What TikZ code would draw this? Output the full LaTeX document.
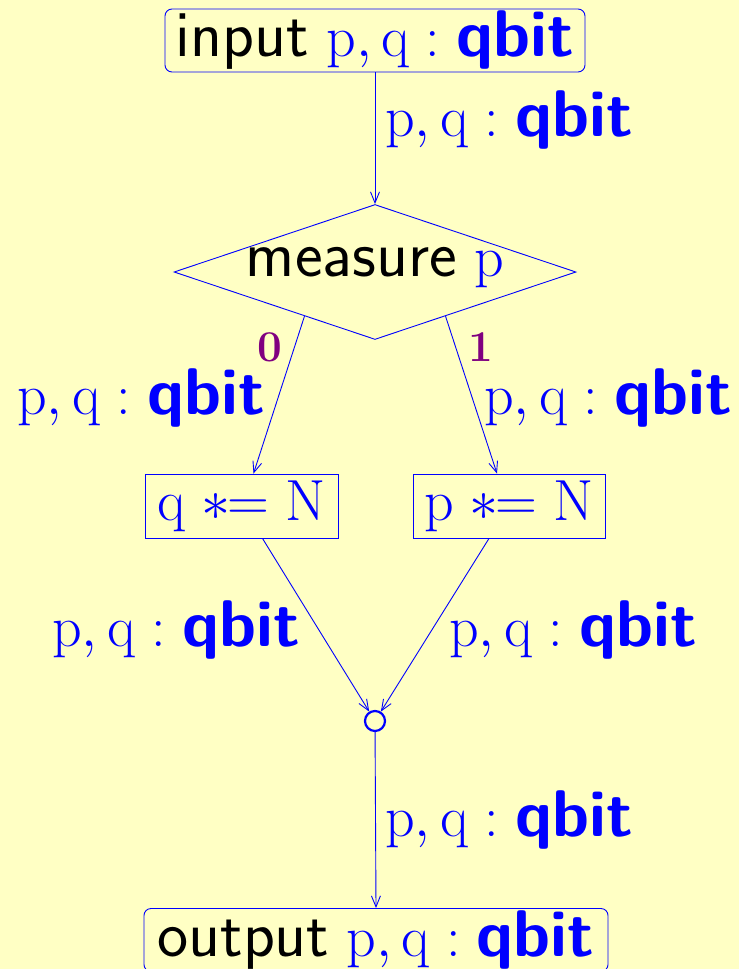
\documentclass[tikz,border=0pt]{standalone}
\usepackage{fix-cm}
\usetikzlibrary{shapes.geometric,arrows.meta,calc}
\definecolor{bgyellow}{RGB}{255,255,196}
\definecolor{dblue}{RGB}{0,0,255}
\definecolor{dpurple}{RGB}{128,0,128}
\newcommand{\sfw}[1]{{\fontsize{66}{70}\selectfont\sffamily #1}}
\newcommand{\pq}{\textcolor{dblue}{$\mathrm{p},\mathrm{q}:\hbox{\sfw{\bfseries qbit}}$}}
\begin{document}
\begin{tikzpicture}[x=1pt,y=-1pt,
  font=\fontsize{58}{62}\selectfont,
  every node/.style={inner sep=0pt},
  rbox/.style={draw=dblue,line width=0.9pt,rounded corners=7pt,minimum height=63pt},
  sbox/.style={draw=dblue,line width=0.9pt,minimum height=64pt},
  arr/.style={draw=dblue,line width=0.9pt,-{Straight Barb[length=11pt,width=9pt,line width=0.9pt]}},
  lab/.style={text=dblue},
  bit/.style={text=dpurple,font=\fontsize{44}{48}\selectfont\bfseries}]
\fill[bgyellow] (0,0) rectangle (739,969);
\useasboundingbox (0,0) rectangle (739,969);
\node[rbox,minimum width=420pt] (in) at (375,40.5) {\sfw{input} \pq};
\node[draw=dblue,line width=0.9pt,diamond,aspect=3,minimum width=402pt,minimum height=135pt] (dia) at (375,272) {};
\node (mt) at (375,268) {\sfw{measure} \textcolor{dblue}{$\mathrm{p}$}};
\node[sbox,minimum width=193pt] (qb) at (241.5,506) {\textcolor{dblue}{$\mathrm{q}\mathrel{\ast\!\!=}\mathrm{N}$}};
\node[sbox,minimum width=192pt] (pb) at (509,506) {\textcolor{dblue}{$\mathrm{p}\mathrel{\ast\!\!=}\mathrm{N}$}};
\node[circle,draw=dblue,line width=2.2pt,minimum size=20pt] (jn) at (375,721) {};
\node[rbox,minimum width=464pt] (out) at (376,940) {\sfw{output} \pq};
\draw[arr] (in) -- (dia.north);
\draw[arr] ($(dia.west)!0.65!(dia.south)$) coordinate (l0) -- ($(qb.north)+(12,0)$);
\draw[arr] ($(dia.east)!0.65!(dia.south)$) coordinate (r0) -- ($(pb.north)+(-12,0)$);
\draw[arr] ($(qb.south)+(21,0)$) -- (jn);
\draw[arr] ($(pb.south)+(-20,0)$) -- (jn);
\draw[arr] (jn) -- (out.north);
\node[lab,anchor=west] (l1) at (385,120) {\pq};
\node[bit] (b0) at (270,347) {0};
\node[bit] (b1) at (481,347) {1};
\node[lab] (l2) at (141,398) {\pq};
\node[lab] (l3) at (608,398) {\pq};
\node[lab] (l4) at (176,630) {\pq};
\node[lab] (l5) at (573,630) {\pq};
\node[lab,anchor=west] (l6) at (385,820) {\pq};
\end{tikzpicture}
\end{document}
